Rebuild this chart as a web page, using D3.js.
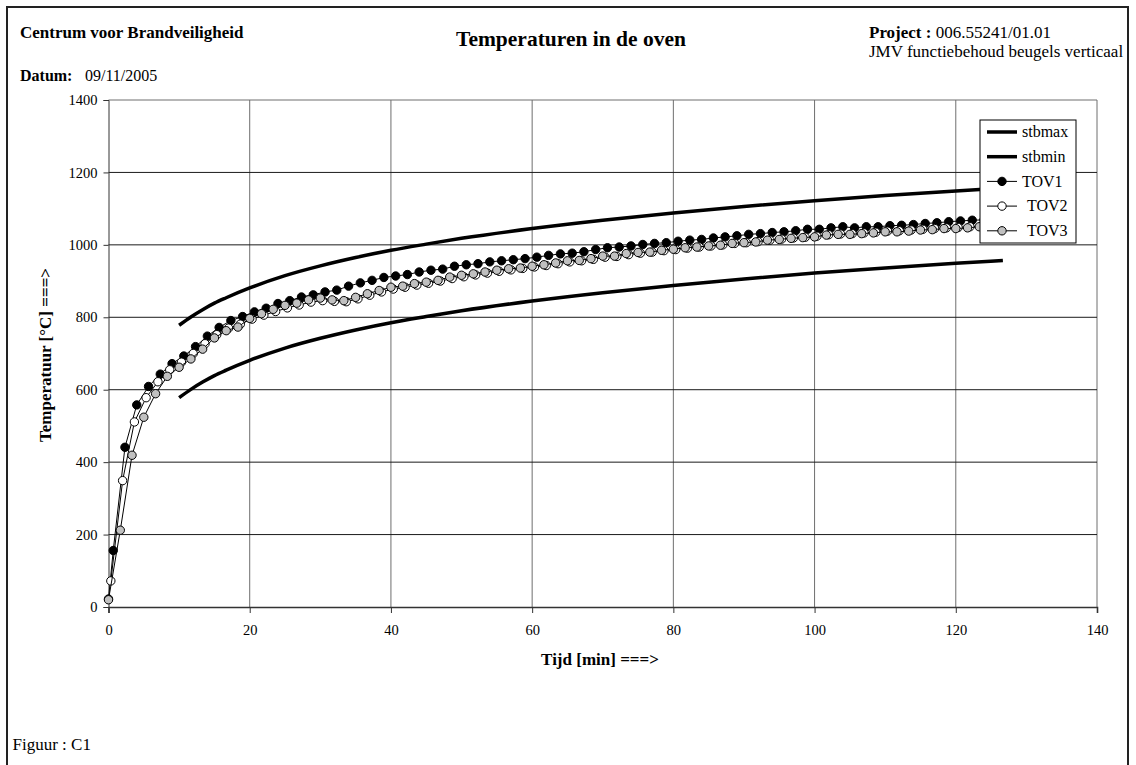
<!DOCTYPE html>
<html>
<head>
<meta charset="utf-8">
<script src="https://cdn.jsdelivr.net/npm/d3@7"></script>
<style>
body { margin: 0; background: #fff; }
svg { display: block; font-family: "Liberation Serif", "Times New Roman", serif; }
</style>
</head>
<body>
<svg width="1136" height="765"></svg>
<script>
// ---- data ----
var xTicks = [0, 20, 40, 60, 80, 100, 120, 140];
var yTicks = [0, 200, 400, 600, 800, 1000, 1200, 1400];

// standard curve band (stbmax / stbmin), minutes
var stbTime = [10, 11.67, 13.33, 15, 16.67, 20, 25, 30, 35, 40, 45, 50, 60, 70, 80, 90, 100, 110, 120, 126.67];
var stbmax  = [778, 801, 821, 839, 854, 881, 915, 942, 965, 985, 1002, 1018, 1045, 1068, 1088, 1106, 1122, 1136, 1149, 1157];
var stbmin  = [578, 601, 621, 639, 654, 681, 715, 742, 765, 785, 802, 818, 845, 868, 888, 906, 922, 936, 949, 957];

// oven thermocouples
var tov1Time = [0, 0.67, 2.33, 4, 5.67, 7.33, 9, 10.67, 12.33, 14, 15.67, 17.33, 19, 20.67, 22.33, 24, 25.67, 27.33, 29, 30.67,
  32.33, 34, 35.67, 37.33, 39, 40.67, 42.33, 44, 45.67, 47.33, 49, 50.67, 52.33, 54, 55.67, 57.33, 59, 60.67, 62.33, 64,
  65.67, 67.33, 69, 70.67, 72.33, 74, 75.67, 77.33, 79, 80.67, 82.33, 84, 85.67, 87.33, 89, 90.67, 92.33, 94, 95.67, 97.33,
  99, 100.67, 102.33, 104, 105.67, 107.33, 109, 110.67, 112.33, 114, 115.67, 117.33, 119, 120.67, 122.33, 124, 125.67];
var tov1 = [22, 156, 441, 558, 609, 643, 672, 693, 719, 748, 772, 791, 802, 815, 825, 838, 846, 856, 862, 870,
  875, 886, 895, 902, 910, 914, 918, 925, 930, 933, 941, 945, 948, 953, 956, 959, 962, 966, 971, 975,
  977, 981, 987, 992, 994, 997, 1001, 1004, 1006, 1010, 1013, 1015, 1019, 1022, 1025, 1029, 1031, 1034, 1036, 1039,
  1043, 1043, 1047, 1050, 1047, 1050, 1050, 1053, 1054, 1056, 1059, 1061, 1064, 1066, 1068, 1069, 1070];

var tov2Time = [0.33, 2, 3.67, 5.33, 7, 8.67, 10.33, 12, 13.67, 15.33, 17, 18.67, 20.33, 22, 23.67, 25.33, 27, 28.67, 30.33, 32,
  33.67, 35.33, 37, 38.67, 40.33, 42, 43.67, 45.33, 47, 48.67, 50.33, 52, 53.67, 55.33, 57, 58.67, 60.33, 62, 63.67, 65.33,
  67, 68.67, 70.33, 72, 73.67, 75.33, 77, 78.67, 80.33, 82, 83.67, 85.33, 87, 88.67, 90.33, 92, 93.67, 95.33, 97, 98.67,
  100.33, 102, 103.67, 105.33, 107, 108.67, 110.33, 112, 113.67, 115.33, 117, 118.67, 120.33, 122, 123.67, 125.33];
var tov2 = [72, 349, 511, 578, 622, 655, 676, 700, 727, 752, 770, 781, 795, 806, 816, 826, 834, 842, 846, 844,
  843, 851, 861, 870, 878, 883, 889, 894, 900, 907, 912, 917, 922, 927, 931, 935, 939, 943, 948, 953,
  956, 960, 966, 968, 973, 977, 980, 984, 987, 991, 994, 997, 1000, 1004, 1006, 1009, 1013, 1016, 1019, 1021,
  1024, 1028, 1030, 1031, 1033, 1035, 1038, 1039, 1041, 1043, 1045, 1047, 1048, 1050, 1052, 1053];

var tov3Time = [0, 1.67, 3.33, 5, 6.67, 8.33, 10, 11.67, 13.33, 15, 16.67, 18.33, 20, 21.67, 23.33, 25, 26.67, 28.33, 30, 31.67,
  33.33, 35, 36.67, 38.33, 40, 41.67, 43.33, 45, 46.67, 48.33, 50, 51.67, 53.33, 55, 56.67, 58.33, 60, 61.67, 63.33, 65,
  66.67, 68.33, 70, 71.67, 73.33, 75, 76.67, 78.33, 80, 81.67, 83.33, 85, 86.67, 88.33, 90, 91.67, 93.33, 95, 96.67, 98.33,
  100, 101.67, 103.33, 105, 106.67, 108.33, 110, 111.67, 113.33, 115, 116.67, 118.33, 120, 121.67, 123.33, 125, 126.67];
var tov3 = [20, 212, 419, 524, 589, 637, 662, 685, 712, 743, 763, 773, 797, 810, 822, 833, 839, 848, 853, 848,
  846, 855, 865, 874, 883, 886, 893, 897, 902, 911, 916, 920, 925, 930, 934, 936, 941, 945, 950, 956,
  957, 962, 969, 969, 976, 979, 980, 985, 988, 992, 994, 997, 999, 1004, 1006, 1008, 1013, 1015, 1018, 1020,
  1022, 1027, 1029, 1029, 1031, 1033, 1036, 1036, 1038, 1041, 1042, 1045, 1045, 1047, 1050, 1051, 1052];

var seriesNames = ["stbmax", "stbmin", "TOV1", "TOV2", "TOV3"];
var markerFill = {TOV1: "#000", TOV2: "#fff", TOV3: "#c0c0c0"};

// ---- layout ----
var svg = d3.select("svg");
var x = d3.scaleLinear().domain([0, 140]).range([108.5, 1097]);
var y = d3.scaleLinear().domain([0, 1400]).range([607, 100]);

// page frame
svg.append("rect")
    .attr("x", 7).attr("y", 7).attr("width", 1121).attr("height", 820)
    .attr("fill", "none").attr("stroke", "#222").attr("stroke-width", 2);

// header texts
function txt(xp, yp, s, size, bold, anchor) {
    return svg.append("text")
        .attr("x", xp).attr("y", yp)
        .attr("font-size", size)
        .attr("font-weight", bold ? "bold" : "normal")
        .attr("text-anchor", anchor || "start")
        .attr("fill", "#000")
        .text(s);
}
txt(20, 37.5, "Centrum voor Brandveiligheid", 17, true);
var datum = txt(20, 81, "", 16, false);
datum.append("tspan").attr("font-weight", "bold").text("Datum:");
datum.append("tspan").attr("x", 85).text("09/11/2005");
txt(571, 46, "Temperaturen in de oven", 21.5, true, "middle");
var proj = txt(869, 37.5, "", 17, false);
proj.append("tspan").attr("font-weight", "bold").text("Project :");
proj.append("tspan").text(" 006.55241/01.01");
txt(869, 56.5, "JMV functiebehoud beugels verticaal", 17, false);
txt(12.5, 749.5, "Figuur : C1", 17, false);

// grid: horizontal lines dark, vertical lines grey (as in the print)
var grid = svg.append("g").attr("stroke-width", 1);
grid.selectAll("line.v").data(xTicks.slice(1)).enter().append("line")
    .attr("class", "v")
    .attr("stroke", "#6e6e6e")
    .attr("x1", function(d) { return x(d); }).attr("x2", function(d) { return x(d); })
    .attr("y1", y(0)).attr("y2", y(1400));
grid.selectAll("line.h").data(yTicks.slice(1)).enter().append("line")
    .attr("class", "h")
    .attr("stroke", function(d) { return d === 1400 ? "#6e6e6e" : "#1a1a1a"; })
    .attr("x1", x(0)).attr("x2", x(140))
    .attr("y1", function(d) { return y(d); }).attr("y2", function(d) { return y(d); });

// axes
var yAxis = svg.append("g")
    .attr("transform", "translate(" + x(0) + ",0)")
    .call(d3.axisLeft(y).tickValues(yTicks).tickSize(5).tickPadding(6).tickFormat(d3.format("d")));
var xAxis = svg.append("g")
    .attr("transform", "translate(0," + y(0) + ")")
    .call(d3.axisBottom(x).tickValues(xTicks).tickSize(6).tickPadding(11.5).tickFormat(d3.format("d")));
[xAxis, yAxis].forEach(function(a) {
    a.attr("font-family", null).attr("font-size", null);
    a.selectAll("text").attr("font-size", 14.5).attr("fill", "#000");
    a.selectAll("line, path").attr("stroke", "#333");
});
xAxis.select(".domain").attr("stroke-width", 1.6);

// axis titles
txt(600, 665, "Tijd [min] ===>", 17, true, "middle");
svg.append("text")
    .attr("transform", "translate(51,355) rotate(-90)")
    .attr("text-anchor", "middle")
    .attr("font-size", 17).attr("font-weight", "bold")
    .text("Temperatuur [°C] ===>");

// series
var line = d3.line()
    .x(function(d) { return x(d[0]); })
    .y(function(d) { return y(d[1]); });
var smooth = d3.line()
    .curve(d3.curveMonotoneX)
    .x(function(d) { return x(d[0]); })
    .y(function(d) { return y(d[1]); });

function zip(t, v) { return t.map(function(tt, i) { return [tt, v[i]]; }); }

var plot = svg.append("g");
[stbmax, stbmin].forEach(function(vals) {
    plot.append("path")
        .datum(zip(stbTime, vals))
        .attr("d", smooth)
        .attr("fill", "none")
        .attr("stroke", "#000")
        .attr("stroke-width", 3.5);
});

[["TOV1", tov1Time, tov1], ["TOV2", tov2Time, tov2], ["TOV3", tov3Time, tov3]].forEach(function(s) {
    var pts = zip(s[1], s[2]);
    var g = plot.append("g");
    g.append("path")
        .datum(pts)
        .attr("d", line)
        .attr("fill", "none")
        .attr("stroke", "#000")
        .attr("stroke-width", 1);
    g.selectAll("circle").data(pts).enter().append("circle")
        .attr("cx", function(d) { return x(d[0]); })
        .attr("cy", function(d) { return y(d[1]); })
        .attr("r", 4.2)
        .attr("fill", markerFill[s[0]])
        .attr("stroke", "#000")
        .attr("stroke-width", 1);
});

// legend
var legend = svg.append("g").attr("transform", "translate(980,120)");
legend.append("rect")
    .attr("width", 96).attr("height", 123)
    .attr("fill", "#fff").attr("stroke", "#000").attr("stroke-width", 1);
var rows = legend.selectAll("g.item").data(seriesNames).enter().append("g")
    .attr("class", "item")
    .attr("transform", function(d, i) { return "translate(0," + (12 + i * 24.7) + ")"; });
rows.append("line")
    .attr("x1", 7).attr("x2", 37).attr("y1", 0).attr("y2", 0)
    .attr("stroke", "#000")
    .attr("stroke-width", function(d) { return markerFill[d] ? 1 : 3.5; });
rows.filter(function(d) { return markerFill[d]; }).append("circle")
    .attr("cx", 22).attr("cy", 0).attr("r", 4.2)
    .attr("fill", function(d) { return markerFill[d]; })
    .attr("stroke", "#000");
rows.append("text")
    .attr("x", function(d) { return d === "TOV2" || d === "TOV3" ? 47 : 42; })
    .attr("dy", "0.33em")
    .attr("font-size", 16)
    .text(function(d) { return d; });
</script>
</body>
</html>
